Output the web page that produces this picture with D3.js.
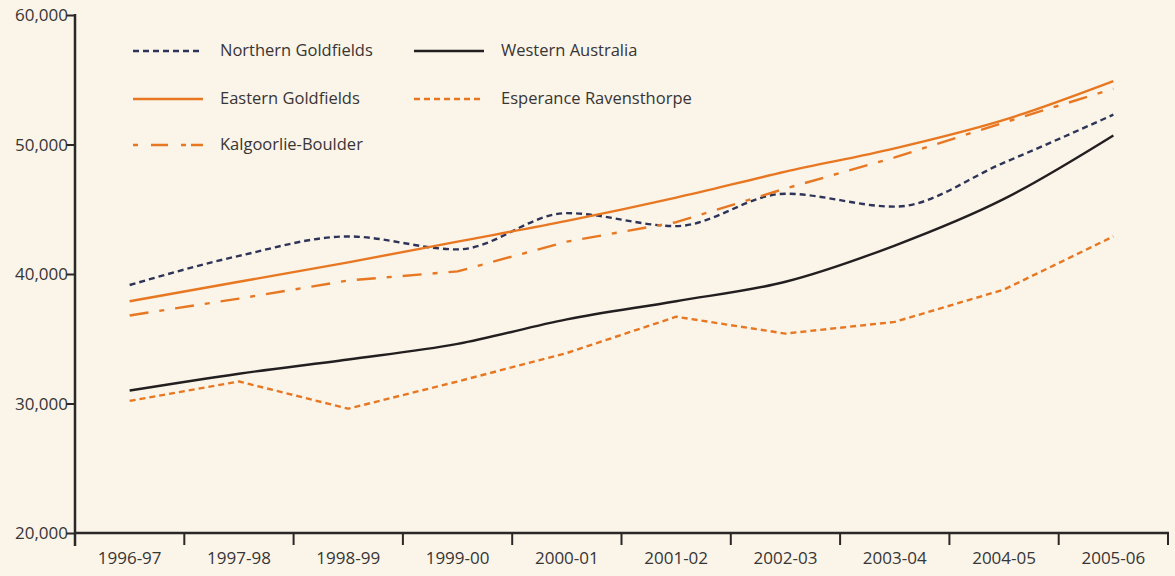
<!DOCTYPE html>
<html>
<head>
<meta charset="utf-8">
<script src="https://cdn.jsdelivr.net/npm/d3@7"></script>
<style>
  body { margin: 0; background: #faf4e9; }
  svg text { font-family: "Open Sans", "Noto Sans", sans-serif; fill: #383535; }
</style>
</head>
<body>
<svg id="chart" width="1175" height="576"></svg>
<script>
// data
var years = ["1996-97", "1997-98", "1998-99", "1999-00", "2000-01", "2001-02", "2002-03", "2003-04", "2004-05", "2005-06"];
var northernGoldfields = [39150, 41400, 42900, 41900, 44700, 43700, 46200, 45200, 48600, 52300];
var easternGoldfields = [37900, 39400, 40900, 42500, 44100, 45900, 47900, 49700, 51900, 54900];
var kalgoorlieBoulder = [36800, 38100, 39500, 40200, 42500, 44000, 46600, 49000, 51700, 54300];
var westernAustralia = [31000, 32300, 33400, 34600, 36500, 37900, 39400, 42200, 45800, 50700];
var esperanceRavensthorpe = [30200, 31700, 29600, 31700, 33900, 36700, 35400, 36300, 38800, 42900];
var yTicks = [20000, 30000, 40000, 50000, 60000];

var series = [
  {name: "Northern Goldfields", values: northernGoldfields, color: "#2e3458", dash: "6,4", smooth: true, col: 0, row: 0},
  {name: "Eastern Goldfields", values: easternGoldfields, color: "#e87722", dash: null, smooth: true, col: 0, row: 1},
  {name: "Kalgoorlie-Boulder", values: kalgoorlieBoulder, color: "#e87722", dash: "19,11,5,11", smooth: false, col: 0, row: 2},
  {name: "Western Australia", values: westernAustralia, color: "#231f20", dash: null, smooth: true, col: 1, row: 0},
  {name: "Esperance Ravensthorpe", values: esperanceRavensthorpe, color: "#e87722", dash: "6,4", smooth: false, col: 1, row: 1}
];

var svg = d3.select("#chart");

var x = d3.scaleBand()
    .domain(years)
    .range([75, 1168])
    .padding(0);

var y = d3.scaleLinear()
    .domain([20000, 60000])
    .range([533, 15]);

var axisColor = "#2b2727";

// y axis
var yAxis = svg.append("g")
    .attr("transform", "translate(75,0)")
    .call(d3.axisLeft(y).tickValues(yTicks).tickSize(9).tickPadding(-2).tickFormat(d3.format(",")));
yAxis.select(".domain").remove();
yAxis.selectAll("line").attr("stroke", axisColor).attr("stroke-width", 2);
yAxis.selectAll("text").attr("font-size", 17).attr("dy", "0.35em");
svg.append("line")
    .attr("x1", 75).attr("x2", 75)
    .attr("y1", 14).attr("y2", 546)
    .attr("stroke", axisColor).attr("stroke-width", 2.5);

// x axis
var xAxis = svg.append("g")
    .attr("transform", "translate(0,533)")
    .call(d3.axisBottom(x).tickSize(0).tickPadding(19));
xAxis.select(".domain").remove();
xAxis.selectAll("text").attr("font-size", 17);
svg.append("line")
    .attr("x1", 75).attr("x2", 1169)
    .attr("y1", 533).attr("y2", 533)
    .attr("stroke", axisColor).attr("stroke-width", 2.5);
svg.append("g").selectAll("line")
    .data(years)
    .enter().append("line")
      .attr("x1", function(d) { return x(d) + x.bandwidth(); })
      .attr("x2", function(d) { return x(d) + x.bandwidth(); })
      .attr("y1", 533).attr("y2", 545)
      .attr("stroke", axisColor).attr("stroke-width", 2);

// lines
function lineFor(s) {
  return d3.line()
    .x(function(d, i) { return x(years[i]) + x.bandwidth() / 2; })
    .y(function(d) { return y(d); })
    .curve(s.smooth ? d3.curveMonotoneX : d3.curveLinear)(s.values);
}

var drawOrder = [4, 3, 0, 2, 1];
svg.append("g").selectAll("path")
    .data(drawOrder.map(function(i) { return series[i]; }))
    .enter().append("path")
      .attr("d", lineFor)
      .attr("fill", "none")
      .attr("stroke", function(d) { return d.color; })
      .attr("stroke-width", 2.4)
      .attr("stroke-linejoin", "round")
      .attr("stroke-dasharray", function(d) { return d.dash; });

// legend
var legendCols = [133, 414];
var legendRows = [51, 99, 145];
var legend = svg.append("g").selectAll("g")
    .data(series)
    .enter().append("g")
      .attr("transform", function(d) { return "translate(" + legendCols[d.col] + "," + legendRows[d.row] + ")"; });

legend.append("line")
    .attr("x1", 0).attr("x2", 70)
    .attr("stroke", function(d) { return d.color; })
    .attr("stroke-width", 2.4)
    .attr("stroke-dasharray", function(d) { return d.name == "Kalgoorlie-Boulder" ? "5,13,17,13,5" : d.dash; });

legend.append("text")
    .attr("x", 87)
    .attr("dy", "0.32em")
    .attr("font-size", 16.5)
    .text(function(d) { return d.name; });
</script>
</body>
</html>
